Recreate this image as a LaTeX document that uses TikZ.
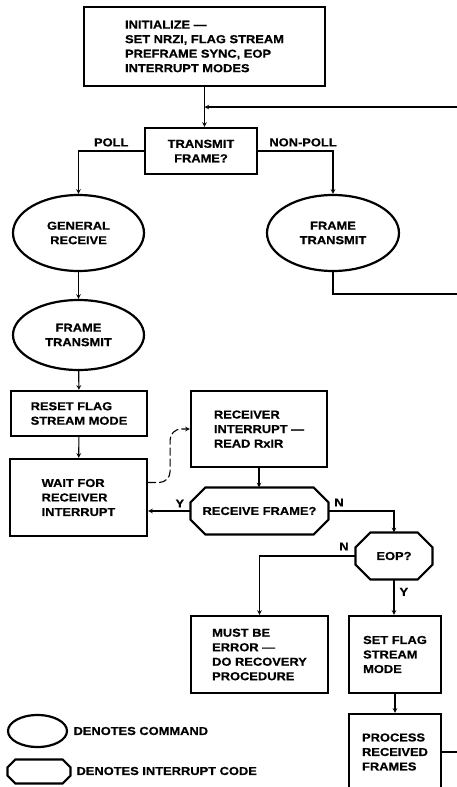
\documentclass[tikz,border=0pt]{standalone}
\usepackage{fontspec}
\setmainfont{Liberation Sans}[FakeStretch=1.12, FakeBold=0.6]
\usetikzlibrary{shapes.geometric}

\begin{document}
\begin{tikzpicture}[x=1pt, y=-1pt, >=stealth, line width=1.1pt,
		every node/.style={font=\fontsize{11.5}{14.5}\selectfont\bfseries, inner sep=0pt},
		box/.style={draw, line width=2.2pt, rectangle, align=left},
		cmd/.style={draw, line width=2.2pt, ellipse, align=center},
		intcode/.style={rectangle, align=center, append after command={\pgfextra{
			\draw[line width=2.2pt] ([xshift=#1]\tikzlastnode.north west) -- ([xshift=-#1]\tikzlastnode.north east)
				-- ([yshift=-#1]\tikzlastnode.north east) -- ([yshift=#1]\tikzlastnode.south east)
				-- ([xshift=-#1]\tikzlastnode.south east) -- ([xshift=#1]\tikzlastnode.south west)
				-- ([yshift=#1]\tikzlastnode.south west) -- ([yshift=-#1]\tikzlastnode.north west) -- cycle;}}},
		intcode/.default=15pt]
				% 0. 画布
				\useasboundingbox (0,0) rectangle (457,787);
				\clip (0,0) rectangle (457,787);
				
				% 1. 初始化与发送判断
				\node[box, minimum width=241pt, minimum height=79pt] (init) at (204.5,46.5) {INITIALIZE —\\SET NRZI, FLAG STREAM\\PREFRAME SYNC, EOP\\INTERRUPT MODES};
				\node[box, align=center, minimum width=112pt, minimum height=46pt] (trans) at (201,151) {TRANSMIT\\FRAME?};
				\coordinate (fbin) at (457,107);
				\draw[->] (init.south) -- (init.south |- trans.north);
				\draw[->] (fbin) -- (init.south |- fbin);
				
				% 2. 两个分支
				\node[cmd, minimum width=131pt, minimum height=76pt] (genrx) at (78.5,233) {GENERAL\\RECEIVE};
				\node[cmd, minimum width=132pt, minimum height=76pt] (frtx) at (333,233) {FRAME\\TRANSMIT};
				\draw[->] (trans.west) -| node[pos=0.25, above=4pt] (poll) {POLL} (genrx.north);
				\draw[->] (trans.east) -| node[pos=0.3, above=4pt] (nonpoll) {NON-POLL} (frtx.north);
				\coordinate (out1) at (457,294);
				\draw (frtx.south) |- (out1);
				
				% 3. 轮询分支
				\node[cmd, minimum width=131pt, minimum height=70pt] (frtx2) at (78.5,335) {FRAME\\TRANSMIT};
				\node[box, minimum width=136pt, minimum height=45pt] (reset) at (79,413.5) {RESET FLAG\\STREAM MODE};
				\node[box, minimum width=137pt, minimum height=77pt] (wait) at (78.5,497.5) {WAIT FOR\\RECEIVER\\INTERRUPT};
				\draw[->] (genrx) -- (frtx2);
				\draw[->] (frtx2) -- (reset);
				\draw[->] (reset) -- (wait);
				
				% 4. 接收中断
				\node[box, minimum width=136pt, minimum height=76pt] (rxint) at (259,429) {RECEIVER\\INTERRUPT —\\READ RxIR};
				\draw[->, dash pattern=on 8pt off 3pt, rounded corners=11pt] ([yshift=15pt]wait.east) -- ++(22,0) |- (rxint.west);
				\node[intcode, minimum width=137pt, minimum height=46pt] (rxfr) at (259.5,511) {RECEIVE FRAME?};
				\draw[->] (rxint) -- (rxint |- rxfr.north);
				\draw[->] (rxfr.west) -- node[pos=0.25, above=3pt] (y1) {Y} (rxfr.west -| wait.east);
				
				% 5. EOP 判断
				\node[intcode, minimum width=76pt, minimum height=46pt] (eop) at (394,556) {EOP?};
				\draw[->] (rxfr.east) -| node[pos=0.08, above=4pt] (n1) {N} (eop.north);
				\node[box, minimum width=137pt, minimum height=77pt] (err) at (259.5,654.5) {MUST BE\\ERROR —\\DO RECOVERY\\PROCEDURE};
				\draw[->] (eop.west) -| node[pos=0.06, above=5pt] (n2) {N} (err.north);
				\node[box, minimum width=92pt, minimum height=77pt] (setfl) at (395,654.5) {SET FLAG\\STREAM\\MODE};
				\draw[->] (eop) -- node[pos=0.35, right=5pt] (y2) {Y} (eop |- setfl.north);
				\node[box, minimum width=92pt, minimum height=76pt] (proc) at (395,752) {PROCESS\\RECEIVED\\FRAMES};
				\draw[->] (setfl) -- (proc);
				\coordinate (out2) at (457,752);
				\draw (proc.east) -- (out2);
				
				% 6. 图例
				\node[cmd, minimum width=59pt, minimum height=32pt] (legcmd) at (37.5,731) {};
				\node[anchor=west] (legcmdtxt) at (73,731) {DENOTES COMMAND};
				\node[intcode=8pt, minimum width=62pt, minimum height=23pt] (legint) at (39,771.5) {};
				\node[anchor=west] (leginttxt) at (76,771) {DENOTES INTERRUPT CODE};
			\end{tikzpicture}
\end{document}
